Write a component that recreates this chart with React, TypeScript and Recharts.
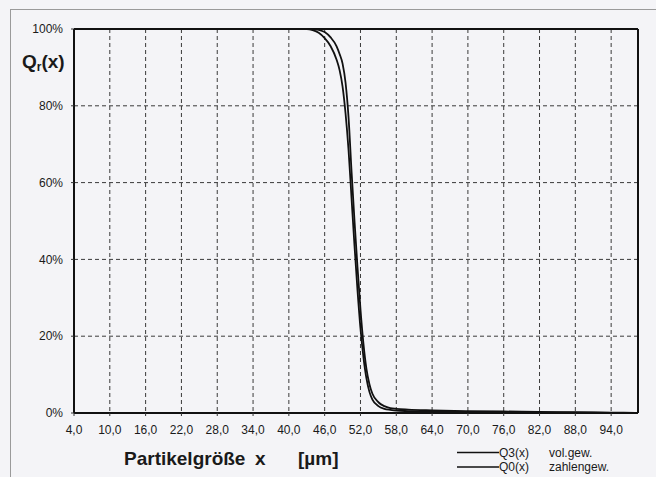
import React from 'react';
import { LineChart, Line, XAxis, YAxis, CartesianGrid, ReferenceLine } from 'recharts';

const xValues = [4, 10, 20, 30, 40, 43, 44, 45, 46, 47, 48, 48.5, 49, 49.5, 50, 50.5, 51, 51.5, 52, 52.5, 53, 53.5, 54, 55, 56, 57, 58, 60, 64, 70, 76, 82, 88, 94, 98];
const q3Values = [100, 100, 100, 100, 100, 100, 100, 99.8, 99.2, 97.8, 95.5, 93.5, 91, 86, 77, 63, 50, 38, 27, 18, 11.5, 7.5, 5, 2.8, 1.8, 1.3, 1.1, 0.9, 0.7, 0.5, 0.4, 0.3, 0.2, 0.1, 0.05];
const q0Values = [100, 100, 100, 100, 100, 100, 99.7, 99, 97.6, 95.5, 92, 89.3, 85, 78, 68.5, 56, 43.5, 32, 22, 14.5, 9, 5.5, 3.5, 1.8, 1.1, 0.8, 0.6, 0.5, 0.4, 0.3, 0.2, 0.15, 0.1, 0.05, 0];

const xTicks = [4, 10, 16, 22, 28, 34, 40, 46, 52, 58, 64, 70, 76, 82, 88, 94];
const yTicks = [0, 20, 40, 60, 80, 100];
const seriesNames = ['Q3(x)', 'Q0(x)'];
const seriesNotes = ['vol.gew.', 'zahlengew.'];
const xTitle = ['Partikelgröße', 'x', '[µm]'];

const FONT = '"Liberation Sans", Arial, Helvetica, sans-serif';

const data = xValues.map((x, i) => ({ x, q3: q3Values[i], q0: q0Values[i] }));

const fmtX = (v: number) => v.toFixed(1).replace('.', ',');

const XTitleAndLegend = () => (
  <g fontFamily={FONT}>
    <text x={124} y={465} fontSize={19} fontWeight="bold" fill="#1a1a1a">{xTitle[0]}</text>
    <text x={255} y={465} fontSize={19} fontWeight="bold" fill="#1a1a1a">{xTitle[1]}</text>
    <text x={298} y={465} fontSize={19} fontWeight="bold" fill="#1a1a1a">{xTitle[2]}</text>
    {seriesNames.map((n, i) => (
      <g key={n}>
        <line x1={457} x2={499} y1={452.5 + i * 14.5} y2={452.5 + i * 14.5} stroke="#111" strokeWidth={1.5} />
        <text x={499} y={456.5 + i * 14.5} fontSize={12} fill="#1a1a1a">{n}</text>
        <text x={549} y={456.5 + i * 14.5} fontSize={12} fill="#1a1a1a">{seriesNotes[i]}</text>
      </g>
    ))}
  </g>
);

const YTitle = () => (
  <text x={22} y={68} fontFamily={FONT} fontSize={19} fontWeight="bold" fill="#1a1a1a">
    Q<tspan fontSize={12} dy={3}>r</tspan><tspan fontSize={19} dy={-3}>(x)</tspan>
  </text>
);

export default function App() {
  return (
    <div style={{ position: 'absolute', left: 0, top: 0, width: 656, height: 477, background: '#f4f4f7', overflow: 'hidden' }}>
      <div style={{ position: 'absolute', left: 10, top: 9, width: 646, height: 468, borderLeft: '1px solid #9a9a9a', borderTop: '1px solid #9a9a9a' }} />
      <div style={{ position: 'absolute', left: 0, top: 0 }}>
        <LineChart width={656} height={477} data={data} margin={{ top: 29, right: 18, bottom: 0, left: 0 }}>
          <CartesianGrid stroke="#3a3a3a" strokeDasharray="4 3" strokeWidth={1} />
          <XAxis
            dataKey="x"
            type="number"
            domain={[4, 98.5]}
            ticks={xTicks}
            tickFormatter={fmtX}
            height={64}
            axisLine={{ stroke: '#111', strokeWidth: 2 }}
            tickLine={{ stroke: '#333' }}
            tickSize={3}
            tickMargin={9}
            tick={{ fill: '#1a1a1a', fontSize: 12, fontFamily: FONT }}
            allowDataOverflow
            label={{ content: () => <XTitleAndLegend /> }}
          />
          <YAxis
            type="number"
            domain={[0, 100]}
            ticks={yTicks}
            tickFormatter={(v: number) => `${v}%`}
            width={74}
            axisLine={{ stroke: '#111', strokeWidth: 2 }}
            tickLine={{ stroke: '#333' }}
            tickSize={3}
            tickMargin={8}
            tick={{ fill: '#1a1a1a', fontSize: 12, fontFamily: FONT }}
            label={{ content: () => <YTitle /> }}
          />
          <ReferenceLine y={100} stroke="#111" strokeWidth={2} />
          <ReferenceLine x={98.5} stroke="#111" strokeWidth={2} />
          <Line type="monotone" dataKey="q3" name={seriesNames[0]} stroke="#111" strokeWidth={1.8} dot={false} isAnimationActive={false} />
          <Line type="monotone" dataKey="q0" name={seriesNames[1]} stroke="#111" strokeWidth={1.8} dot={false} isAnimationActive={false} />
        </LineChart>
      </div>
    </div>
  );
}
